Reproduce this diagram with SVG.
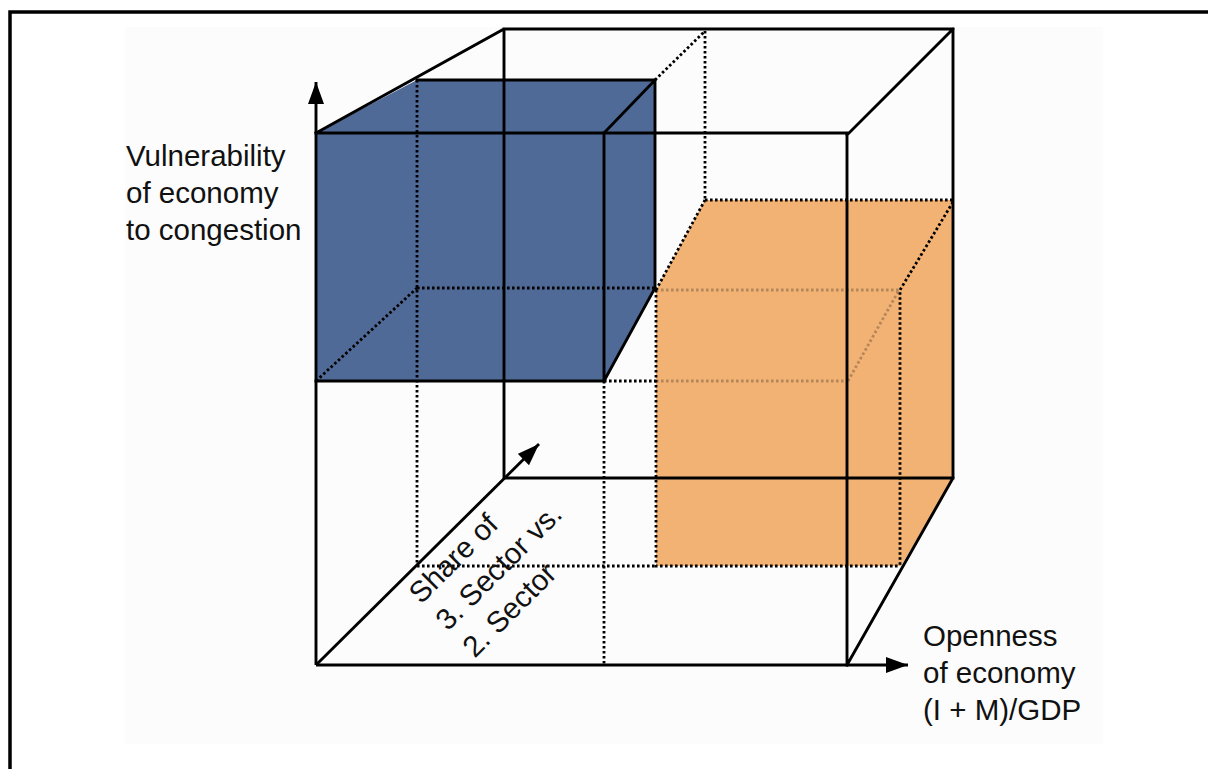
<svg xmlns="http://www.w3.org/2000/svg" width="1208" height="769" viewBox="0 0 1208 769">
  <defs>
    <marker id="arrow" markerUnits="userSpaceOnUse" markerWidth="23" markerHeight="17" refX="22" refY="8" orient="auto">
      <path d="M0,0 L22,8 L0,16 z" fill="#000"/>
    </marker>
  </defs>
  <style>
    .solid { fill: none; stroke: #000; stroke-width: 2.9; stroke-linecap: square; }
    .dot { fill: none; stroke: #000; stroke-width: 2.8; stroke-dasharray: 2.6 2.4; }
    .faint { fill: none; stroke: #b5865a; stroke-width: 2.8; stroke-dasharray: 2.6 2.4; }
    .lbl { font-family: "Liberation Sans", Arial, sans-serif; font-size: 29.5px; fill: #111; }
  </style>

  <rect width="1208" height="769" fill="#fff"/>
  <rect x="125" y="27" width="978" height="717" fill="#fcfcfc"/>
  <g id="frame">
    <path d="M10,769 V12 H1208" fill="none" stroke="#000" stroke-width="3.5"/>
  </g>

  <g id="orange-box">
    <polygon points="656,290 705,200 953,200 953,478 901,566 656,566" fill="#f2b274"/>
    <path class="faint" d="M656,290 H899 M656,381 H848 M848,381 L899,290"/>
    <path class="dot" d="M705,200 H953 M953,202 L900,290 V566 M656,290 V566 H900 M656,290 L705,200"/>
  </g>

  <g id="blue-box">
    <polygon points="316,133 417,80 655,80 655,288 604,381 316,381" fill="#506a97"/>
    <path class="dot" d="M417,80 V565 M417,288 H655 M316,381 L417,288"/>
    <path class="solid" d="M417,80 H655 V288 L604,381 H316 M604,133 V381 M604,133 L655,80"/>
  </g>

  <g id="cube">
    <path class="dot" d="M655,80 L705,31 M705,31 V200 M604,381 V665 M604,381 H656 M417,566 H656"/>
    <path class="solid" d="M316,133 L504,29 H953 V478 H504 V29 M316,133 H847 V665 M847,135 L953,29 M953,478 L847,665"/>
  </g>

  <g id="connectors">
    <line class="solid" x1="316" y1="665" x2="316" y2="82" marker-end="url(#arrow)" style="stroke-linecap:butt"/>
    <line class="solid" x1="316" y1="665" x2="908" y2="665" marker-end="url(#arrow)" style="stroke-linecap:butt"/>
    <line class="solid" x1="316" y1="665" x2="539" y2="444" marker-end="url(#arrow)" style="stroke-linecap:butt"/>
  </g>

  <g id="label-vulnerability" class="lbl">
    <text x="126" y="166">Vulnerability</text>
    <text x="126" y="203">of economy</text>
    <text x="126" y="240">to congestion</text>
  </g>

  <g id="label-openness" class="lbl">
    <text x="923" y="646">Openness</text>
    <text x="923" y="683">of economy</text>
    <text x="923" y="720">(I + M)/GDP</text>
  </g>

  <g id="label-share" class="lbl" transform="translate(421,605) rotate(-45)">
    <text x="0" y="0">Share of</text>
    <text x="0" y="38">3. Sector vs.</text>
    <text x="0" y="76">2. Sector</text>
  </g>
</svg>
